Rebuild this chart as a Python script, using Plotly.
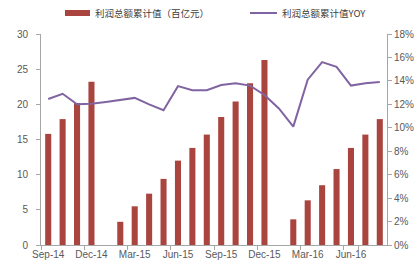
import plotly.graph_objects as go

months = ["Sep-14","Oct-14","Nov-14","Dec-14","Jan-15","Feb-15","Mar-15","Apr-15","May-15","Jun-15",
          "Jul-15","Aug-15","Sep-15","Oct-15","Nov-15","Dec-15","Jan-16","Feb-16","Mar-16","Apr-16",
          "May-16","Jun-16","Jul-16","Aug-16"]
profit = [15.8, 17.9, 20.2, 23.2, None, 3.3, 5.5, 7.3, 9.4, 12.0,
          13.8, 15.7, 18.2, 20.4, 23.0, 26.3, None, 3.65, 6.35, 8.5,
          10.8, 13.8, 15.7, 17.9]
yoy = [12.45, 12.9, 12.0, 12.05, 12.2, 12.4, 12.55, 12.0, 11.5, 13.55,
       13.2, 13.2, 13.65, 13.8, 13.6, 12.8, 11.65, 10.1, 14.1, 15.6,
       15.2, 13.6, 13.8, 13.9]
tick_labels = months[::3]
bar_name = "利润总额累计值（百亿元）"
line_name = "利润总额累计值YOY"

grey = "#595959"
axis_grey = "#A6A6A6"
bar_color = "#A9443F"
line_color = "#8064A2"

fig = go.Figure()
fig.add_trace(go.Bar(x=months, y=profit, name=bar_name, marker_color=bar_color,
                     marker_line_width=0, showlegend=False))
fig.add_trace(go.Scatter(x=months, y=yoy, name=line_name, yaxis="y2", mode="lines",
                         line=dict(color=line_color, width=2), connectgaps=True, showlegend=False))

font = dict(family="Liberation Sans, Arial", size=10, color=grey)
fig.update_layout(
    width=417, height=275,
    margin=dict(l=41, r=30, t=34, b=30),
    paper_bgcolor="white", plot_bgcolor="white",
    bargap=0.58,
    font=font,
    xaxis=dict(type="category", tickmode="array", tickvals=tick_labels, ticktext=tick_labels,
               tickson="boundaries", ticks="outside", ticklen=4, tickcolor=axis_grey,
               showline=True, linecolor=axis_grey, linewidth=1, showgrid=False,
               range=[-0.5, 23.5], tickfont=font, tickangle=0, automargin=False),
    yaxis=dict(range=[0, 30], dtick=5, showgrid=False, zeroline=False, showline=True,
               linecolor=axis_grey, ticks="outside", ticklen=4, tickcolor=axis_grey,
               tickfont=font, ticklabelstandoff=6, automargin=False),
    yaxis2=dict(range=[0, 18], dtick=2, overlaying="y", side="right", showgrid=False,
                zeroline=False, showline=True, linecolor=axis_grey, ticks="outside",
                ticklen=4, tickcolor=axis_grey, ticksuffix="%", tickfont=font, automargin=False),
)

# legend drawn manually
fig.add_shape(type="rect", xref="paper", yref="paper", x0=(65-41)/346, x1=(90-41)/346,
              y0=(275-30-16)/211, y1=(275-30-10)/211, fillcolor=bar_color, line_width=0)
fig.add_annotation(text=bar_name, xref="paper", yref="paper", x=(93-41)/346, y=(275-30-13)/211,
                   xanchor="left", yanchor="middle", showarrow=False,
                   font=dict(family="Noto Sans CJK SC", size=9.5, color="#404040"))
fig.add_shape(type="line", xref="paper", yref="paper", x0=(250-41)/346, x1=(277-41)/346,
              y0=(275-30-13)/211, y1=(275-30-13)/211, line=dict(color=line_color, width=2))
fig.add_annotation(text=line_name, xref="paper", yref="paper", x=(280-41)/346, y=(275-30-13)/211,
                   xanchor="left", yanchor="middle", showarrow=False,
                   font=dict(family="Noto Sans CJK SC", size=9.5, color="#404040"))

fig.write_html("out.html")
